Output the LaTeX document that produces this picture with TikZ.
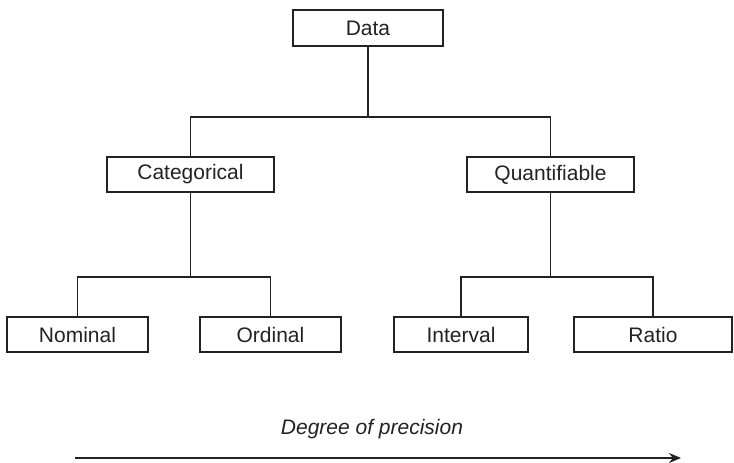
\documentclass[tikz,border=0pt]{standalone}
\usepackage{fontspec}
\setmainfont{Liberation Sans}
\usetikzlibrary{arrows.meta}
\definecolor{ink}{HTML}{222222}
\begin{document}
\begin{tikzpicture}[x=1pt,y=-1pt,
  box/.style={draw=ink,line width=1.2pt,rectangle,inner sep=0pt,minimum height=35pt,
    text=ink,font=\fontsize{21}{25}\selectfont},
  link/.style={draw=ink,line width=1.2pt},
  precision/.style={draw=ink,line width=1.2pt,-{Stealth[length=12pt,width=10pt]}}]
\useasboundingbox (0,0) rectangle (734,463);
\node[box,minimum width=150pt,minimum height=36pt] (data) at (368,28) {Data};
\node[box,minimum width=167pt] (cat) at (190.5,174.5) {Categorical};
\node[box,minimum width=167pt] (quant) at (550.5,174.5) {Quantifiable};
\node[box,minimum width=141pt] (nom) at (77.5,334.5) {Nominal};
\node[box,minimum width=141pt] (ord) at (270.5,334.5) {Ordinal};
\node[box,minimum width=134pt] (int) at (461,334.5) {Interval};
\node[box,minimum width=158pt] (rat) at (653,334.5) {Ratio};
\coordinate (j1) at (368,117);
\coordinate (j2) at (190.5,277);
\coordinate (j3) at (550.5,277);
\draw[link] (data.south) -- (j1);
\draw[link] (j1) -| (cat.north);
\draw[link] (j1) -| (quant.north);
\draw[link] (cat.south) -- (j2);
\draw[link] (j2) -| (nom.north);
\draw[link] (j2) -| (ord.north);
\draw[link] (quant.south) -- (j3);
\draw[link] (j3) -| (int.north);
\draw[link] (j3) -| (rat.north);
\node[text=ink,font=\fontsize{21}{25}\selectfont\itshape] (deg) at (372,429) {Degree of precision};
\coordinate (a0) at (75,458);
\coordinate (a1) at (681,458);
\draw[precision] (a0) -- (a1);
\end{tikzpicture}
\end{document}
